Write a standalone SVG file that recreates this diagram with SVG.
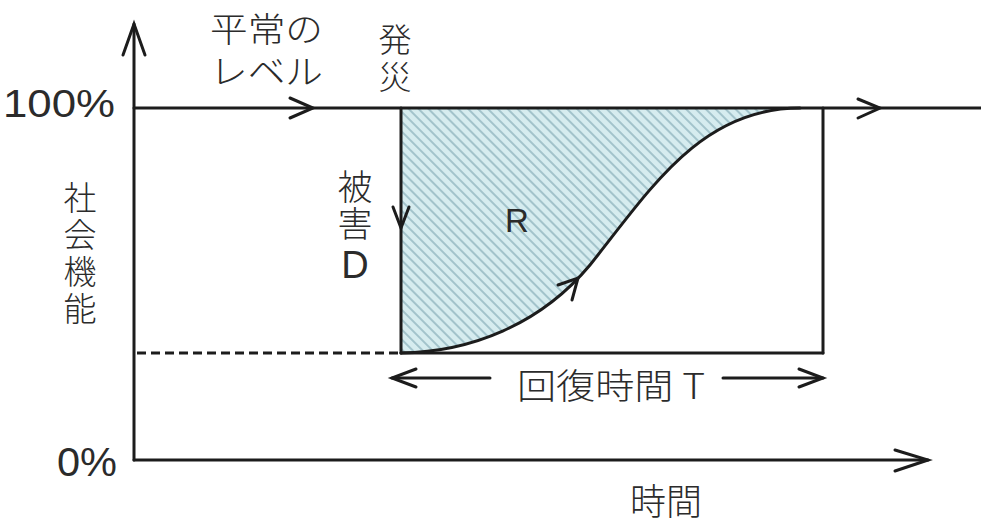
<svg xmlns="http://www.w3.org/2000/svg" width="981" height="524" viewBox="0 0 981 524">
<style>
.ln{stroke:#1c1c1c;stroke-width:3;fill:none;stroke-linecap:round;stroke-linejoin:round}
.chev{stroke:#1c1c1c;stroke-width:3;fill:none;stroke-linecap:round;stroke-linejoin:miter}
.t{font-family:"Liberation Sans","Noto Sans CJK JP",sans-serif;fill:#2b2b2b}
.j{font-family:"Noto Sans CJK JP","Liberation Sans",sans-serif;fill:#2b2b2b;font-weight:300}
.v{writing-mode:vertical-rl}
</style>
<defs>
<pattern id="hatch" patternUnits="userSpaceOnUse" width="7" height="7" patternTransform="rotate(-45)">
<rect width="7" height="7" fill="#d6ecef"/>
<line x1="2" y1="0" x2="2" y2="7" stroke="#9dbfc7" stroke-width="1.8"/>
</pattern>
</defs>
<rect width="981" height="524" fill="#ffffff"/>
<g id="area-R">
<path d="M401,108 L401,353 C470,352 540,325 590,265 C650,190 700,108 800,108 Z" fill="url(#hatch)"/>
</g>
<g id="connectors">
<line class="ln" x1="134" y1="24" x2="134" y2="460"/>
<polyline class="chev" points="123,55 134,24 145,55"/>
<line class="ln" x1="134" y1="460" x2="928" y2="460"/>
<polyline class="chev" points="895,450 928,460 895,471"/>
<line class="ln" x1="134" y1="108" x2="981" y2="108"/>
<polyline class="chev" points="290,98 313,108 290,118"/>
<polyline class="chev" points="858,99 880,108 858,118"/>
<line class="ln" x1="401" y1="108" x2="401" y2="353"/>
<polyline class="chev" points="393,207 401,228 409,207"/>
<line class="ln" x1="401" y1="353" x2="823" y2="353"/>
<line class="ln" x1="823" y1="108" x2="823" y2="353"/>
<line x1="137" y1="353" x2="398" y2="353" stroke="#1c1c1c" stroke-width="3" stroke-dasharray="9 5"/>
<path class="ln" d="M401,353 C470,352 540,325 590,265 C650,190 700,108 800,108"/>
<polyline class="chev" points="558,285 578,278 572,300"/>
<line class="ln" x1="392" y1="378" x2="490" y2="378"/>
<polyline class="chev" points="416,369 392,378 416,387"/>
<line class="ln" x1="723" y1="378" x2="823" y2="378"/>
<polyline class="chev" points="799,369 823,378 799,387"/>
</g>
<g id="label-100">
<text class="t" x="3" y="117" font-size="38" textLength="112" lengthAdjust="spacingAndGlyphs">100%</text>
</g>
<g id="label-0">
<text class="t" x="57" y="476" font-size="40" textLength="60" lengthAdjust="spacingAndGlyphs">0%</text>
</g>
<g id="label-normal">
<text class="j" x="210" y="42" font-size="34" textLength="113" lengthAdjust="spacingAndGlyphs">平常の</text>
<text class="j" x="210" y="84" font-size="34" textLength="113" lengthAdjust="spacingAndGlyphs">レベル</text>
</g>
<g id="label-disaster">
<text class="j v" x="395" y="23" font-size="33" letter-spacing="4">発災</text>
</g>
<g id="label-axis-y">
<text class="j v" x="80" y="181" font-size="33" letter-spacing="4" font-weight="400">社会機能</text>
</g>
<g id="label-damage">
<text class="j v" x="355" y="169" font-size="35" letter-spacing="2">被害</text>
<text class="t" x="355" y="278" font-size="38" text-anchor="middle">D</text>
</g>
<g id="label-R">
<text class="t" x="505" y="232" font-size="33">R</text>
</g>
<g id="label-recovery">
<text class="j" x="517" y="399" font-size="35" textLength="188" lengthAdjust="spacingAndGlyphs">回復時間 T</text>
</g>
<g id="label-time">
<text class="j" x="630" y="515" font-size="36" textLength="72" lengthAdjust="spacingAndGlyphs">時間</text>
</g>
</svg>
